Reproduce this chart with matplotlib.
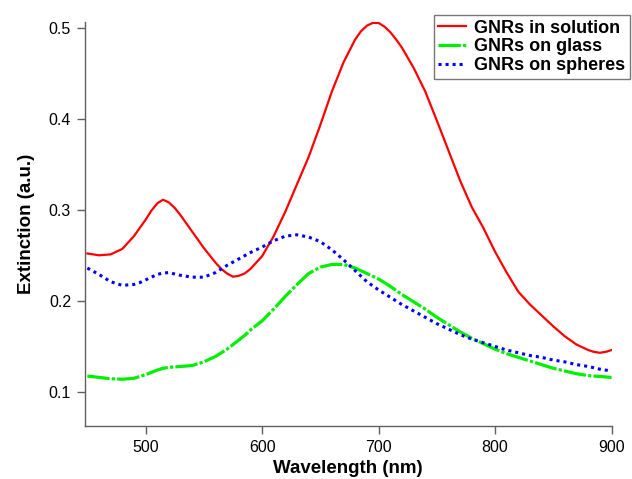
import numpy as np
import matplotlib
matplotlib.use('Agg')
import matplotlib.pyplot as plt

# extinction spectra of gold nanorods (GNRs)
wavelength = [450, 460, 470, 480, 490, 495, 500, 505, 510, 515,
              520, 525, 530, 535, 540, 550, 560, 565, 570, 575,
              580, 585, 590, 600, 610, 620, 630, 640, 650, 660,
              670, 680, 685, 690, 695, 700, 705, 710, 715, 720,
              730, 740, 750, 760, 770, 780, 790, 800, 810, 820,
              830, 840, 850, 860, 870, 880, 885, 890, 895, 900]

solution = [0.252, 0.250, 0.251, 0.257, 0.271, 0.280, 0.289, 0.299, 0.307, 0.311,
            0.308, 0.302, 0.294, 0.285, 0.276, 0.258, 0.242, 0.235, 0.230, 0.2265,
            0.2275, 0.230, 0.235, 0.249, 0.271, 0.298, 0.328, 0.358, 0.393, 0.430,
            0.462, 0.487, 0.496, 0.502, 0.505, 0.505, 0.501, 0.495, 0.487, 0.478,
            0.456, 0.430, 0.398, 0.365, 0.332, 0.303, 0.280, 0.254, 0.231, 0.210,
            0.196, 0.184, 0.172, 0.161, 0.152, 0.146, 0.144, 0.143, 0.144, 0.146]

glass = [0.1175, 0.116, 0.1145, 0.114, 0.115, 0.117, 0.119, 0.1215, 0.124, 0.126,
         0.127, 0.1275, 0.128, 0.1285, 0.129, 0.133, 0.139, 0.143, 0.147, 0.152,
         0.157, 0.162, 0.168, 0.178, 0.191, 0.205, 0.218, 0.230, 0.237, 0.240,
         0.240, 0.236, 0.233, 0.230, 0.227, 0.224, 0.220, 0.216, 0.2115, 0.207,
         0.199, 0.191, 0.182, 0.174, 0.166, 0.159, 0.153, 0.147, 0.142, 0.138,
         0.134, 0.130, 0.126, 0.123, 0.120, 0.118, 0.1175, 0.117, 0.1165, 0.116]

spheres = [0.236, 0.229, 0.221, 0.217, 0.218, 0.220, 0.223, 0.226, 0.229, 0.2305,
           0.231, 0.2295, 0.228, 0.227, 0.226, 0.226, 0.231, 0.235, 0.239, 0.2425,
           0.246, 0.2495, 0.253, 0.259, 0.266, 0.271, 0.2725, 0.270, 0.265, 0.256,
           0.245, 0.233, 0.227, 0.221, 0.2165, 0.212, 0.208, 0.204, 0.200, 0.196,
           0.189, 0.182, 0.175, 0.169, 0.163, 0.158, 0.154, 0.150, 0.146, 0.143,
           0.140, 0.138, 0.135, 0.133, 0.130, 0.128, 0.1265, 0.125, 0.124, 0.123]

plt.rcParams['font.family'] = ['Liberation Sans', 'DejaVu Sans']

fig = plt.figure(figsize=(6.32, 4.79), dpi=100)
ax = fig.add_axes([0.1345, 0.1113, 0.8331, 0.8427])

ax.plot(wavelength, solution, color='#ff0000', lw=1.6, label='GNRs in solution')
ax.plot(wavelength, glass, color='#00ee00', lw=2.3, dashes=(7, 0.7, 1, 0.7),
        dash_capstyle='butt', label='GNRs on glass')
ax.plot(wavelength, spheres, color='#0000ff', lw=2.2, dashes=(1, 1.3),
        dash_capstyle='butt', label='GNRs on spheres')

ax.set_xlim(448, 900)
ax.set_ylim(0.063, 0.506)
ax.set_xticks([500, 600, 700, 800, 900])
ax.set_yticks([0.1, 0.2, 0.3, 0.4, 0.5])

for side in ['top', 'right']:
    ax.spines[side].set_visible(False)
for side in ['left', 'bottom']:
    ax.spines[side].set_color('#606060')
    ax.spines[side].set_linewidth(1.0)
ax.tick_params(direction='out', length=6, width=1, color='#606060',
               labelsize=11.5, pad=4)

ax.set_xlabel('Wavelength (nm)', fontsize=13.5, fontweight='bold', labelpad=4)
ax.set_ylabel('Extinction (a.u.)', fontsize=13.5, fontweight='bold', labelpad=10)

leg = ax.legend(loc='upper right', bbox_to_anchor=(630 / 632, 1 - 15 / 479),
                bbox_transform=fig.transFigure, borderaxespad=0,
                prop={'weight': 'bold', 'size': 13}, fancybox=False,
                framealpha=1, edgecolor='#777777', handlelength=1.55,
                handletextpad=0.45, labelspacing=0.1, borderpad=0.25)
leg.get_frame().set_linewidth(1.0)

fig.savefig('out.png', dpi=100)
